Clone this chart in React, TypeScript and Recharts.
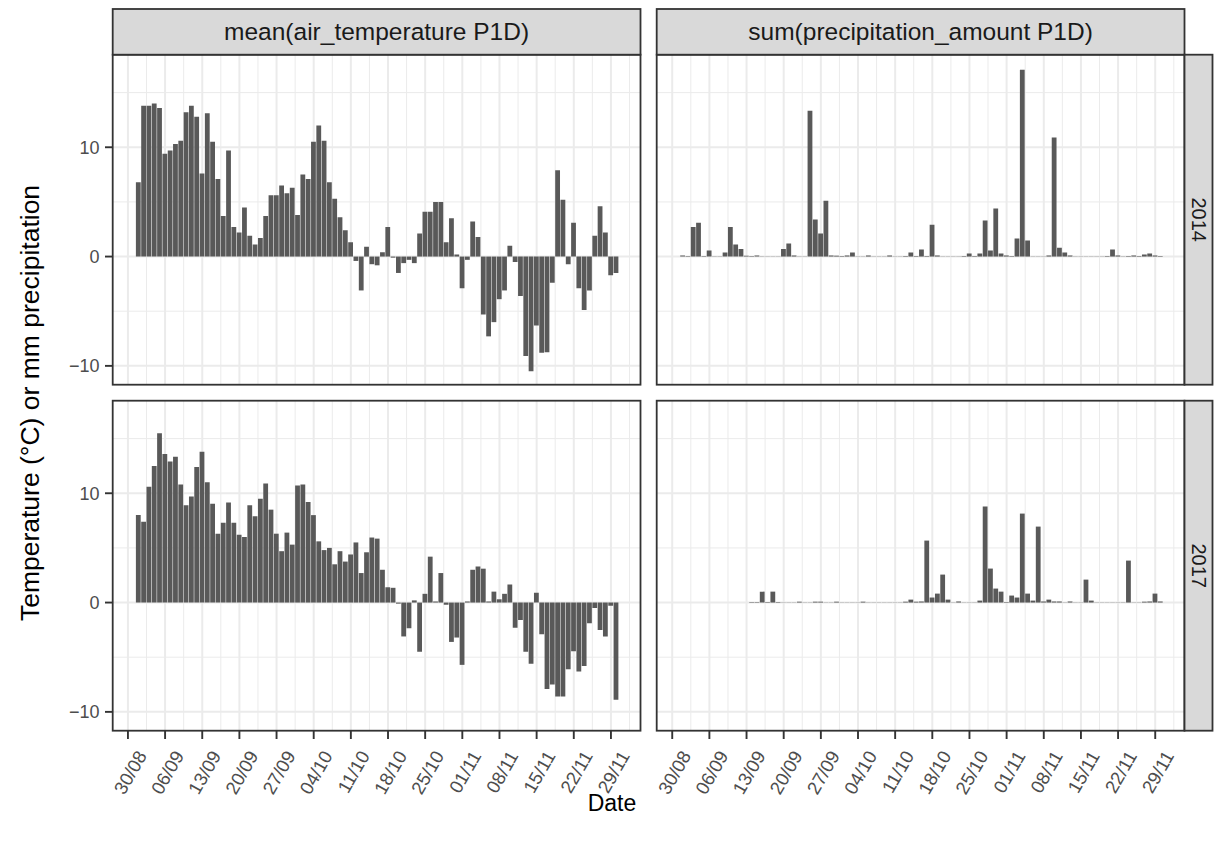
import React from 'react';
import { ComposedChart, Bar, XAxis, YAxis, CartesianGrid } from 'recharts';

// ---- data (day index 0 = 1 Sep) ----
const tickLabels = ['30/08', '06/09', '13/09', '20/09', '27/09', '04/10', '11/10', '18/10', '25/10', '01/11', '08/11', '15/11', '22/11', '29/11'];
const tickDays = [-2, 5, 12, 19, 26, 33, 40, 47, 54, 61, 68, 75, 82, 89];
const minorDays = [1.5, 8.5, 15.5, 22.5, 29.5, 36.5, 43.5, 50.5, 57.5, 64.5, 71.5, 78.5, 85.5, 92.5];
const yMajor = [-10, 0, 10];
const yMinor = [-5, 5, 15];

const temp2014 = [
  6.8, 13.8, 13.8, 14.0, 13.6, 9.4, 9.7, 10.3, 10.6, 13.2,
  13.8, 12.8, 7.6, 13.1, 10.5, 7.1, 3.7, 9.7, 2.7, 2.2,
  4.5, 1.9, 1.1, 1.7, 3.7, 5.6, 5.6, 6.5, 5.8, 6.3,
  3.8, 7.5, 7.1, 10.5, 12.0, 10.6, 6.8, 5.3, 3.6, 2.4,
  1.3, -0.4, -3.1, 0.9, -0.7, -0.8, 0.4, 2.7, -0.1, -1.5,
  -0.6, -0.3, -0.6, 2.1, 4.1, 4.1, 5.0, 5.0, 1.3, 3.5,
  0.2, -2.9, -0.3, 3.2, 1.8, -5.3, -7.3, -6.0, -3.9, -3.1,
  1.0, -0.5, -3.6, -9.1, -10.5, -6.3, -8.8, -8.75, -2.4, 7.9,
  5.2, -0.7, 3.1, -2.9, -4.9, -3.1, 1.9, 4.6, 2.2, -1.7,
  -1.5,
];

const temp2017 = [
  8.0, 7.4, 10.6, 12.5, 15.5, 13.6, 12.9, 13.35, 10.8, 8.9,
  9.7, 12.4, 13.8, 11.0, 9.05, 6.3, 7.3, 9.15, 7.3, 6.2,
  6.0, 8.9, 7.9, 9.5, 10.9, 8.5, 6.3, 4.7, 6.4, 5.3,
  10.7, 10.8, 9.2, 8.0, 5.6, 4.8, 5.0, 3.5, 4.7, 3.75,
  4.4, 5.5, 2.7, 4.6, 5.95, 5.85, 3.0, 1.4, 1.35, -0.1,
  -3.1, -2.35, 0.2, -4.5, 0.8, 4.2, 0.1, 2.7, -0.2, -3.6,
  -3.2, -5.7, 0.1, 3.0, 3.3, 3.1, 0.1, 1.0, 0.3, 0.8,
  1.65, -2.3, -1.6, -4.5, -5.6, 0.9, -2.9, -7.9, -7.5, -8.6,
  -8.6, -6.1, -4.45, -6.3, -5.8, -1.9, -0.5, -2.5, -3.1, -0.3,
  -8.9,
];

const precip2014 = [
  0.1, 0.05, 2.7, 3.1, 0.05, 0.55, 0.02, 0.02, 0.37, 2.7,
  1.1, 0.7, 0.08, 0.05, 0.1, 0.02, 0.02, 0.02, 0.02, 0.7,
  1.2, 0.1, 0.02, 0.02, 13.35, 3.4, 2.1, 5.1, 0.1, 0.08,
  0.05, 0.1, 0.37, 0.02, 0.02, 0.1, 0.02, 0.02, 0.02, 0.1,
  0.02, 0.02, 0.05, 0.37, 0.05, 0.64, 0.05, 2.9, 0.1, 0.02,
  0.02, 0.02, 0.02, 0.05, 0.27, 0.05, 0.27, 3.3, 0.55, 4.4,
  0.27, 0.1, 0.05, 1.65, 17.1, 1.46, 0.02, 0.02, 0.02, 0.1,
  10.9, 0.8, 0.37, 0.1, 0.02, 0.02, 0.02, 0.02, 0.02, 0.02,
  0.05, 0.64, 0.1, 0.02, 0.05, 0.1, 0.05, 0.18, 0.27, 0.1,
  0.05,
];

const precip2017 = [
  null, null, null, null, null, null, null, null, null, null,
  null, null, null, 0.05, 0.05, 1.0, 0.05, 1.0, 0.05, 0.02,
  0.02, 0.02, 0.08, 0.02, 0.02, 0.08, 0.08, 0.02, 0.02, 0.08,
  0.02, 0.02, 0.02, 0.02, 0.08, 0.02, 0.02, 0.02, 0.02, 0.02,
  0.02, 0.02, 0.08, 0.27, 0.08, 0.1, 5.67, 0.46, 0.82, 2.56,
  0.27, 0.02, 0.1, 0.02, 0.02, 0.02, 0.18, 8.78, 3.11, 1.28,
  1.0, 0.05, 0.64, 0.46, 8.14, 0.82, 0.18, 6.95, 0.1, 0.27,
  0.1, 0.1, 0.02, 0.1, 0.02, 0.02, 2.1, 0.18, 0.02, 0.02,
  0.02, 0.02, 0.02, 0.02, 3.84, 0.02, 0.02, 0.08, 0.1, 0.82,
  0.1,
];

const colTitles = ['mean(air_temperature P1D)', 'sum(precipitation_amount P1D)'];
const rowTitles = ['2014', '2017'];

const toRows = (vals: (number | null)[]) => vals.map((v, i) => ({ day: i, v }));

// ---- layout ----
const FONT = '"Liberation Sans", Arial, Helvetica, sans-serif';
const PL = [112.7, 656.7];
const PT = [54.7, 400.7];
const PW = 527.8;
const PH = 330;
const STRIP_TOP = 9;
const STRIP_W = 28;
const Y_AXIS_W = 112.7;
const RIGHT_PAD = 44;
const X_AXIS_H = 100;
const xDomain = [-4.87, 94.57];
const yDomain = [-11.75, 18.44];
const X_TICK_FS = 18.5;
const Y_TICK_FS = 18;
const STRIP_FS = 24.5;
const ROW_STRIP_FS = 20;
const TITLE_FS = 26.5;

const fmtY = (v: number) => (v < 0 ? '\u2212' + Math.abs(v) : String(v));

const XTick = (props: any) => {
  const { x, y, payload } = props;
  const idx = tickDays.indexOf(payload.value);
  const ax = x + 8;
  const ay = y + 8;
  return (
    <text
      x={ax}
      y={ay}
      transform={`rotate(-60 ${ax} ${ay})`}
      textAnchor="end"
      dy="0.72em"
      fill="#4D4D4D"
      fontSize={X_TICK_FS}
      fontFamily={FONT}
    >
      {idx >= 0 ? tickLabels[idx] : ''}
    </text>
  );
};

type PanelProps = { vals: (number | null)[]; col: number; row: number };

const Panel = ({ vals, col, row }: PanelProps) => {
  const showY = col === 0;
  const showX = row === 1;
  const yW = showY ? Y_AXIS_W : 0;
  const padL = showY ? 0 : RIGHT_PAD;
  const xH = showX ? X_AXIS_H : 0;
  return (
    <div style={{ position: 'absolute', left: PL[col] - yW - padL, top: PT[row] }}>
      <ComposedChart
        width={PW + yW + padL}
        height={PH + xH}
        data={toRows(vals)}
        margin={{ top: 0, right: 0, bottom: 0, left: padL }}
      >
        <CartesianGrid horizontalValues={yMinor} verticalValues={minorDays} stroke="#EBEBEB" strokeWidth={1} />
        <CartesianGrid horizontalValues={yMajor} verticalValues={tickDays} stroke="#EBEBEB" strokeWidth={2} />
        <XAxis
          type="number"
          dataKey="day"
          domain={xDomain}
          allowDataOverflow
          ticks={tickDays}
          interval={0}
          hide={!showX}
          height={xH}
          axisLine={false}
          tickSize={8}
          tickMargin={2}
          tickLine={{ stroke: '#333333', strokeWidth: 1.9 }}
          tick={<XTick />}
        />
        <YAxis
          type="number"
          domain={yDomain}
          allowDataOverflow
          ticks={yMajor}
          interval={0}
          hide={!showY}
          width={yW}
          axisLine={false}
          tickSize={7.7}
          tickMargin={5.5}
          tickLine={{ stroke: '#333333', strokeWidth: 1.9 }}
          tickFormatter={fmtY}
          tick={{ fill: '#4D4D4D', fontSize: Y_TICK_FS, fontFamily: FONT }}
        />
        <Bar dataKey="v" fill="#595959" barSize={4.8} isAnimationActive={false} />
      </ComposedChart>
    </div>
  );
};

export default function App() {
  const series = [
    [temp2014, precip2014],
    [temp2017, precip2017],
  ];
  const yTitleY = 403;
  return (
    <div style={{ position: 'absolute', left: 0, top: 0, width: 1225, height: 844, background: '#FFFFFF', overflow: 'hidden' }}>
      {series.map((rowVals, r) =>
        rowVals.map((vals, c) => <Panel key={`${r}-${c}`} vals={vals} col={c} row={r} />)
      )}
      <svg width={1225} height={844} style={{ position: 'absolute', left: 0, top: 0, pointerEvents: 'none' }}>
        {[0, 1].map((r) =>
          [0, 1].map((c) => (
            <rect key={`b${r}${c}`} x={PL[c]} y={PT[r]} width={PW} height={PH} fill="none" stroke="#333333" strokeWidth={1.8} />
          ))
        )}
        {colTitles.map((t, c) => (
          <g key={`s${c}`}>
            <rect x={PL[c]} y={STRIP_TOP} width={PW} height={PT[0] - STRIP_TOP} fill="#D9D9D9" stroke="#333333" strokeWidth={1.8} />
            <text
              x={PL[c] + PW / 2}
              y={(STRIP_TOP + PT[0]) / 2}
              textAnchor="middle"
              dominantBaseline="central"
              fontSize={STRIP_FS}
              fill="#1A1A1A"
              fontFamily={FONT}
            >
              {t}
            </text>
          </g>
        ))}
        {rowTitles.map((t, r) => {
          const x0 = PL[1] + PW;
          const cx = x0 + STRIP_W / 2;
          const cy = PT[r] + PH / 2;
          return (
            <g key={`r${r}`}>
              <rect x={x0} y={PT[r]} width={STRIP_W} height={PH} fill="#D9D9D9" stroke="#333333" strokeWidth={1.8} />
              <text
                x={cx}
                y={cy}
                transform={`rotate(90 ${cx} ${cy})`}
                textAnchor="middle"
                dominantBaseline="central"
                fontSize={ROW_STRIP_FS}
                fill="#1A1A1A"
                fontFamily={FONT}
              >
                {t}
              </text>
            </g>
          );
        })}
        <text
          x={30}
          y={yTitleY}
          transform={`rotate(-90 30 ${yTitleY})`}
          textAnchor="middle"
          dominantBaseline="central"
          fontSize={TITLE_FS}
          fill="#000000"
          fontFamily={FONT}
        >
          Temperature (°C) or mm precipitation
        </text>
        <text
          x={612}
          y={803}
          textAnchor="middle"
          dominantBaseline="central"
          fontSize={23}
          fill="#000000"
          fontFamily={FONT}
        >
          Date
        </text>
      </svg>
    </div>
  );
}
